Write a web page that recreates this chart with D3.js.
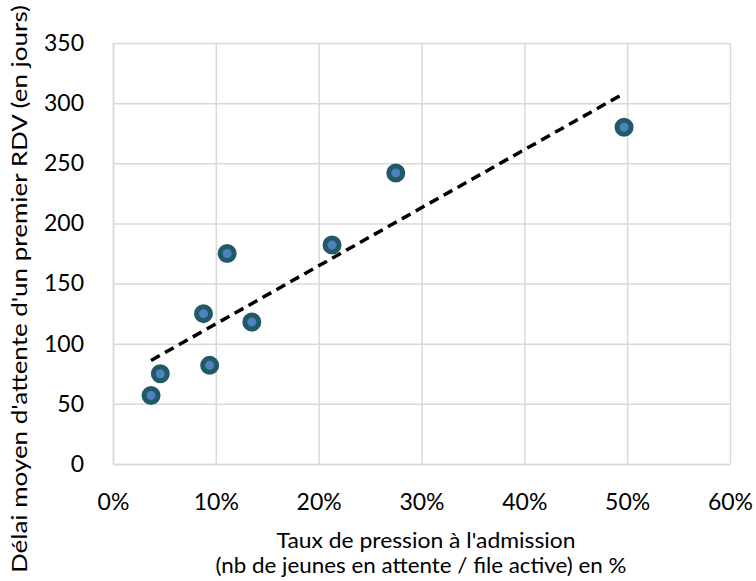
<!DOCTYPE html>
<html>
<head>
<meta charset="utf-8">
<script src="https://cdn.jsdelivr.net/npm/d3@7"></script>
<style>
  body { margin: 0; background: #fff; }
  svg { display: block; font-family: Lato, "Open Sans", sans-serif; }
</style>
</head>
<body>
<script>
// taux de pression (%) and délai moyen (jours)
let taux = [3.7, 4.6, 8.8, 9.4, 11.1, 13.5, 21.3, 27.5, 49.7];
let delai = [57, 75, 125, 82, 175, 118, 182, 242, 280];
let xTicks = [0, 10, 20, 30, 40, 50, 60];
let yTicks = [0, 50, 100, 150, 200, 250, 300, 350];

let w = 756, h = 581;
let svg = d3.select("body").append("svg").attr("width", w).attr("height", h);
let padding = { top: 43, left: 113, right: 26, bottom: 117 };

let scaleX = d3.scaleLinear().domain([0, 60]).range([padding.left, w - padding.right]);
let scaleY = d3.scaleLinear().domain([0, 350]).range([h - padding.bottom, padding.top]);

let data = taux.map((t, i) => ({ x: t, y: delai[i] }));

// gridlines
let DrawGrid = () =>
{
  svg.append("g")
    .attr("transform", "translate(0," + padding.top + ")")
    .call(d3.axisBottom(scaleX).tickValues(xTicks).tickSize(h - padding.top - padding.bottom).tickFormat(""))
    .call(g => g.select(".domain").remove())
    .call(g => g.selectAll("line").attr("stroke", "#d9d9d9").attr("stroke-width", 1.5));
  svg.append("g")
    .attr("transform", "translate(" + padding.left + ",0)")
    .call(d3.axisRight(scaleY).tickValues(yTicks).tickSize(w - padding.left - padding.right).tickFormat(""))
    .call(g => g.select(".domain").remove())
    .call(g => g.selectAll("line").attr("stroke", "#d9d9d9").attr("stroke-width", 1.5));
}

let DrawAxis = () =>
{
  svg.append("g")
    .attr("transform", "translate(0," + (h - padding.bottom) + ")")
    .call(d3.axisBottom(scaleX).tickValues(xTicks).tickSize(0).tickPadding(30).tickFormat(d => d + "%"))
    .call(g => g.select(".domain").attr("stroke", "#d9d9d9").attr("stroke-width", 1.5))
    .call(g => g.selectAll("text").attr("font-size", 23).attr("fill", "#000").attr("font-family", "Lato"));
  svg.append("g")
    .attr("transform", "translate(" + padding.left + ",0)")
    .call(d3.axisLeft(scaleY).tickValues(yTicks).tickSize(0).tickPadding(29))
    .call(g => g.select(".domain").attr("stroke", "#d9d9d9").attr("stroke-width", 1.5))
    .call(g => g.selectAll("text").attr("font-size", 23).attr("fill", "#000").attr("font-family", "Lato"));
}

let DrawText = () =>
{
  svg.append("text")
    .text("Taux de pression à l'admission")
    .attr("x", 426).attr("y", 548)
    .attr("text-anchor", "middle")
    .attr("font-size", 21)
    .attr("textLength", 299).attr("lengthAdjust", "spacingAndGlyphs");
  svg.append("text")
    .text("(nb de jeunes en attente / file active) en %")
    .attr("x", 421).attr("y", 573)
    .attr("text-anchor", "middle")
    .attr("font-size", 21)
    .attr("textLength", 411).attr("lengthAdjust", "spacingAndGlyphs");
  svg.append("text")
    .text("Délai moyen d'attente d'un premier RDV (en jours)")
    .attr("transform", "translate(27,289) rotate(-90)")
    .attr("text-anchor", "middle")
    .attr("font-size", 21)
    .attr("textLength", 568).attr("lengthAdjust", "spacingAndGlyphs");
}

// linear trend (least squares) over the data range
let DrawTrend = () =>
{
  let mx = d3.mean(data, d => d.x), my = d3.mean(data, d => d.y);
  let slope = d3.sum(data, d => (d.x - mx) * (d.y - my)) / d3.sum(data, d => (d.x - mx) * (d.x - mx));
  let ends = d3.extent(data, d => d.x).map(v => ({ x: v, y: my + slope * (v - mx) }));
  svg.append("path")
    .datum(ends)
    .attr("d", d3.line().x(d => scaleX(d.x)).y(d => scaleY(d.y)))
    .attr("fill", "none")
    .attr("stroke", "#000")
    .attr("stroke-width", 3.5)
    .attr("stroke-dasharray", "10,6");
}

let DrawDots = () =>
{
  svg.selectAll("circle.dot").data(data).enter().append("circle")
    .attr("class", "dot")
    .attr("cx", d => scaleX(d.x))
    .attr("cy", d => scaleY(d.y))
    .attr("r", 7)
    .attr("fill", "#4f81bd")
    .attr("stroke", "#215968")
    .attr("stroke-width", 5);
}

DrawGrid();
DrawAxis();
DrawText();
DrawTrend();
DrawDots();
</script>
</body>
</html>
